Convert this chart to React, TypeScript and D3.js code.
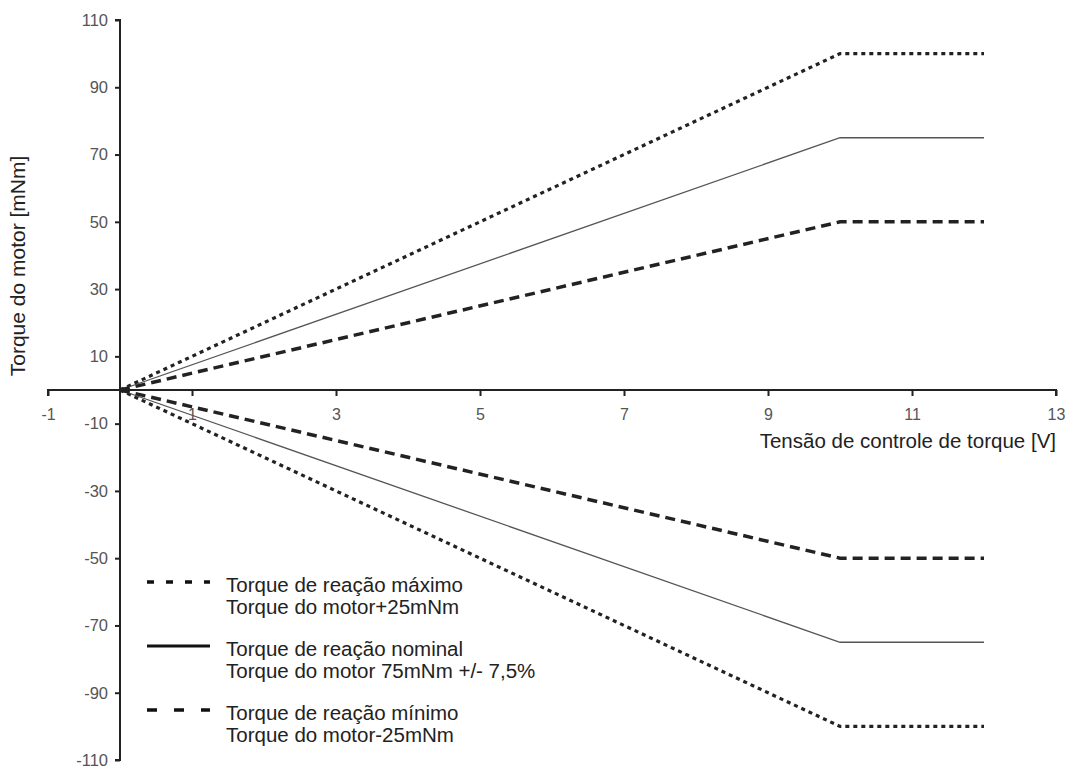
import React, { useEffect, useRef } from 'react';
import * as d3 from 'd3';

// tensão de controle [V] e torque [mNm] para cada curva
const voltage = [0, 10, 12];
const torqueMaxPos = [0, 100, 100];
const torqueNomPos = [0, 75, 75];
const torqueMinPos = [0, 50, 50];
const torqueMaxNeg = [0, -100, -100];
const torqueNomNeg = [0, -75, -75];
const torqueMinNeg = [0, -50, -50];

const xTicks = [-1, 1, 3, 5, 7, 9, 11, 13];
const yTicks = [110, 90, 70, 50, 30, 10, -10, -30, -50, -70, -90, -110];

const legendLabels = [
  ['Torque de reação máximo', 'Torque do motor+25mNm'],
  ['Torque de reação nominal', 'Torque do motor 75mNm +/- 7,5%'],
  ['Torque de reação mínimo', 'Torque do motor-25mNm'],
];

const styles = [
  { dash: '4,4', width: 3.2, color: '#222', legendDash: '7,12' },
  { dash: null, width: 1.3, color: '#555', legendDash: null },
  { dash: '10,6', width: 3.5, color: '#222', legendDash: '10,17' },
];

const App = () => {
  const svgRef = useRef();

  useEffect(() => {
    const svg = d3.select(svgRef.current);
    svg.selectAll('*').remove();

    const x = d3.scaleLinear().domain([-1, 13]).range([48, 1056]);
    const y = d3.scaleLinear().domain([-110, 110]).range([760, 20]);

    const font = 'Liberation Sans, Arial, sans-serif';

    // axes
    svg.append('g')
      .attr('transform', `translate(0,${y(0)})`)
      .call(d3.axisBottom(x).tickValues(xTicks).tickSize(6).tickFormat(d => String(d)))
      .call(g => g.select('.domain').attr('stroke', '#222').attr('stroke-width', 2).attr('d', `M${x(-1)},6V0H${x(13)}V6`))
      .call(g => g.selectAll('.tick line').attr('stroke', '#222').attr('stroke-width', 2))
      .call(g => g.selectAll('.tick text').attr('font-family', font).attr('font-size', 16)
        .attr('fill', '#555').attr('dy', '1.3em'));

    svg.append('g')
      .attr('transform', `translate(${x(0)},0)`)
      .call(d3.axisLeft(y).tickValues(yTicks).tickSize(5).tickFormat(d => String(d)))
      .call(g => g.select('.domain').attr('stroke', '#222').attr('stroke-width', 2).attr('d', `M-5,${y(110)}H0V${y(-110)}H-5`))
      .call(g => g.selectAll('.tick line').attr('stroke', '#222').attr('stroke-width', 2))
      .call(g => g.selectAll('.tick text').attr('font-family', font).attr('font-size', 16.5)
        .attr('fill', '#555').attr('x', -12));

    // lines
    const series = [
      [torqueMaxPos, 0], [torqueNomPos, 1], [torqueMinPos, 2],
      [torqueMaxNeg, 0], [torqueNomNeg, 1], [torqueMinNeg, 2],
    ];
    const line = d3.line().x(d => x(d[0])).y(d => y(d[1]));
    series.forEach(([vals, s]) => {
      const st = styles[s];
      svg.append('path')
        .datum(voltage.map((v, i) => [v, vals[i]]))
        .attr('d', line)
        .attr('fill', 'none')
        .attr('stroke', st.color)
        .attr('stroke-width', st.width)
        .attr('stroke-dasharray', st.dash);
    });

    // axis titles
    svg.append('text')
      .attr('x', x(13))
      .attr('y', 448)
      .attr('text-anchor', 'end')
      .attr('font-family', font)
      .attr('font-size', 20.5)
      .attr('fill', '#222')
      .text('Tensão de controle de torque [V]');

    svg.append('text')
      .attr('transform', `translate(25,${y(0) - 124}) rotate(-90)`)
      .attr('text-anchor', 'middle')
      .attr('font-family', font)
      .attr('font-size', 21)
      .attr('fill', '#222')
      .text('Torque do motor [mNm]');

    // legend
    const legend = svg.append('g').attr('transform', 'translate(147,582)');
    legendLabels.forEach((lines, i) => {
      const st = styles[i];
      const g = legend.append('g').attr('transform', `translate(0,${i * 64})`);
      g.append('line')
        .attr('x1', 0).attr('x2', 63).attr('y1', 0).attr('y2', 0)
        .attr('stroke', '#111')
        .attr('stroke-width', i === 1 ? 3 : 3.5)
        .attr('stroke-dasharray', st.legendDash);
      lines.forEach((t, j) => {
        g.append('text')
          .attr('x', 79)
          .attr('y', 10 + j * 22)
          .attr('font-family', font)
          .attr('font-size', 20.5)
          .attr('fill', '#222')
          .text(t);
      });
    });
  }, []);

  return (
    <svg
      ref={svgRef}
      width={1074}
      height={771}
      style={{ position: 'absolute', left: 0, top: 0, background: '#fff' }}
    ></svg>
  );
};

export default App;
